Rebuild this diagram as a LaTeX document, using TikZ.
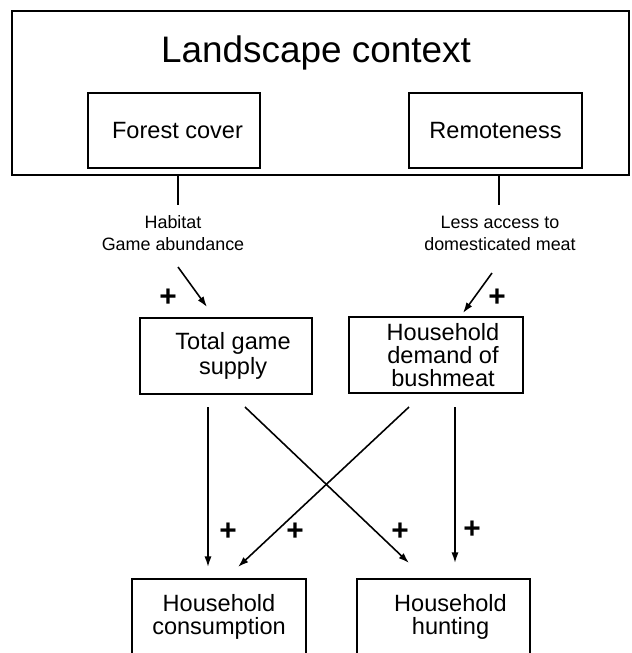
\documentclass[tikz,border=0pt]{standalone}
\usepackage{fontspec}
\setmainfont{Liberation Sans}
\usepackage{tikz}
\usetikzlibrary{arrows.meta}

\begin{document}
\begin{tikzpicture}[x=0.02cm, y=-0.02cm,
    box/.style={draw, line width=1.1pt, inner sep=0pt, align=center,
        font=\fontsize{13.4}{13}\selectfont},
    arr/.style={line width=0.9pt, -{Latex[length=6pt,width=4pt]}},
    plus/.style={font=\fontsize{17}{17}\selectfont\bfseries, inner sep=0pt},
    note/.style={align=center, font=\fontsize{10.2}{12.5}\selectfont}]
    \clip (0,0) rectangle (632,653);

    % Landscape frame
    \node[box, minimum width=12.34cm, minimum height=3.28cm] (landscape) at (320.5,93) {};
    \node[font=\fontsize{21}{24}\selectfont] (title) at (316,53) {Landscape context};
    \node[box, minimum width=3.44cm, minimum height=1.5cm] (forest) at (174,130.5) {\hspace{4pt}Forest cover};
    \node[box, minimum width=3.46cm, minimum height=1.5cm] (remote) at (495.5,130.5) {Remoteness};

    % Middle boxes
    \node[box, minimum width=3.44cm, minimum height=1.52cm] (supply) at (226,356) {\hspace{8pt}Total game\\[1.2pt]\hspace{8pt}supply};
    \node[box, minimum width=3.48cm, minimum height=1.52cm] (demand) at (436,355) {\hspace{8pt}Household\\\hspace{8pt}demand of\\\hspace{8pt}bushmeat};

    % Bottom boxes
    \node[box, minimum width=3.48cm, minimum height=1.52cm] (consum) at (219,617) {Household\\consumption};
    \node[box, minimum width=3.46cm, minimum height=1.52cm] (hunting) at (443.5,617) {\hspace{8pt}Household\\\hspace{8pt}hunting};

    % Pathways
    \coordinate (forestend) at (178,205);
    \coordinate (remoteend) at (499,205);
    \draw[line width=1.1pt] (forestend |- landscape.south) -- (forestend);
    \draw[line width=1.1pt] (remoteend |- landscape.south) -- (remoteend);
    \node[note] (habitat) at (173,233) {Habitat\\Game abundance};
    \node[note] (access) at (500,233) {Less access to\\domesticated meat};

    \coordinate (habtail) at (178,267);
    \coordinate (habhead) at (207,307);
    \coordinate (acctail) at (492,273);
    \coordinate (acchead) at (463,313);
    \draw[arr] (habtail) -- (habhead);
    \draw[arr] (acctail) -- (acchead);
    \node[plus] (p1) at (168,298) {+};
    \node[plus] (p2) at (497,298) {+};

    % Effects on consumption and hunting
    \coordinate (s1) at (208,407);
    \coordinate (s2) at (245,407);
    \coordinate (d1) at (409,407);
    \coordinate (d2) at (455,407);
    \coordinate (c1) at (208,567);
    \coordinate (c2) at (238,567);
    \coordinate (h1) at (409,563);
    \coordinate (h2) at (455,563);
    \draw[arr] (s1) -- (c1);
    \draw[arr] (s2) -- (h1);
    \draw[arr] (d1) -- (c2);
    \draw[arr] (d2) -- (h2);
    \node[plus] (p3) at (228,532) {+};
    \node[plus] (p4) at (295,532) {+};
    \node[plus] (p5) at (400,532) {+};
    \node[plus] (p6) at (472,530) {+};
\end{tikzpicture}
\end{document}
